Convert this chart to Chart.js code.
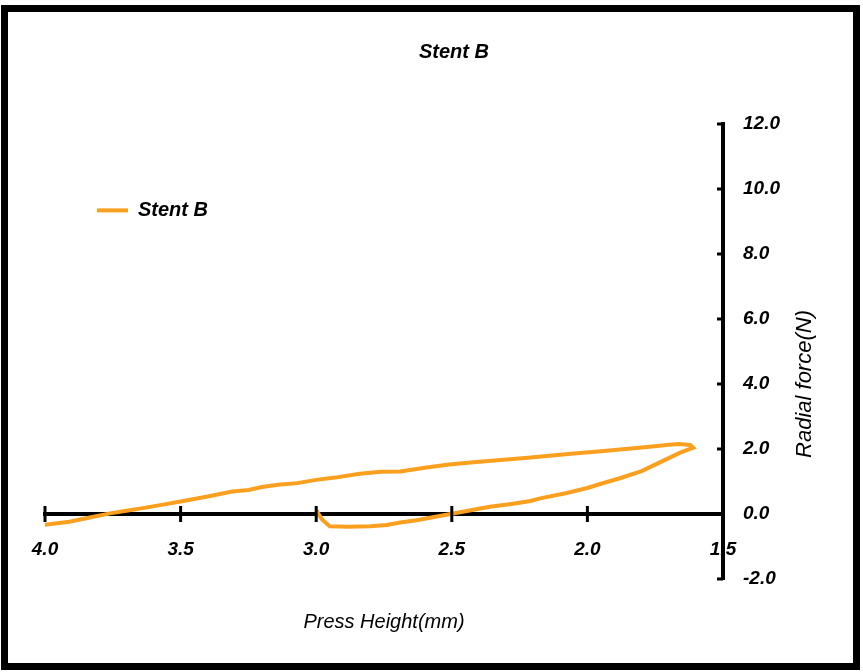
<!DOCTYPE html>
<html>
<head>
<meta charset="utf-8">
<script src="https://cdn.jsdelivr.net/npm/chart.js@4"></script>
<style>
  html, body { margin: 0; padding: 0; background: #fff; }
</style>
</head>
<body>
<canvas id="chart" width="863" height="672"></canvas>
<script>
// press height (mm) and radial force (N), loading then unloading
const pressHeight = [4.00, 3.91, 3.83, 3.76, 3.70, 3.64, 3.57, 3.49, 3.40, 3.31, 3.25, 3.20, 3.14, 3.07, 3.00,
  2.93, 2.84, 2.76, 2.69, 2.60, 2.51, 2.42, 2.32, 2.23, 2.14, 2.05, 1.95, 1.86, 1.77, 1.70, 1.66, 1.62, 1.61,
  1.66, 1.70, 1.75, 1.80, 1.88, 1.95, 2.00, 2.08, 2.17, 2.21, 2.28, 2.36, 2.44, 2.50, 2.57, 2.63, 2.69, 2.74,
  2.80, 2.88, 2.95, 2.98, 3.00];
const radialForce = [-0.33, -0.24, -0.10, 0.02, 0.10, 0.18, 0.28, 0.40, 0.54, 0.69, 0.74, 0.83, 0.90, 0.95, 1.05,
  1.12, 1.24, 1.30, 1.31, 1.42, 1.52, 1.59, 1.66, 1.72, 1.79, 1.86, 1.93, 2.00, 2.07, 2.13, 2.15, 2.12, 2.04,
  1.88, 1.72, 1.52, 1.32, 1.10, 0.93, 0.80, 0.64, 0.49, 0.40, 0.31, 0.22, 0.10, 0.01, -0.10, -0.19, -0.26, -0.34,
  -0.38, -0.39, -0.38, -0.15, 0.12];
const xTicks = [4.0, 3.5, 3.0, 2.5, 2.0, 1.5];
const yTicks = [12, 10, 8, 6, 4, 2, 0, -2];

const FONT = "'Liberation Sans Narrow', 'Liberation Sans', Arial, sans-serif";
const ORANGE = '#FA9F1E';
Chart.defaults.font.family = FONT;
Chart.defaults.color = '#000';

const tickFont = { size: 19, style: 'italic', weight: 'bold' };
const labelFont = { size: 20, style: 'italic', weight: 'bold' };

// frame, tick marks and the y axis title
const extras = {
  id: 'extras',
  afterDraw(chart) {
    const ctx = chart.ctx;
    const xs = chart.scales.x, ys = chart.scales.y;
    const y0 = ys.getPixelForValue(0);
    ctx.save();
    ctx.strokeStyle = '#000';
    ctx.lineWidth = 3;
    xTicks.forEach(v => {
      const px = xs.getPixelForValue(v);
      ctx.beginPath(); ctx.moveTo(px, y0 - 8); ctx.lineTo(px, y0 + 8); ctx.stroke();
    });
    yTicks.forEach(v => {
      const py = ys.getPixelForValue(v);
      ctx.beginPath(); ctx.moveTo(ys.left - 6, py); ctx.lineTo(ys.left, py); ctx.stroke();
    });
    ctx.lineWidth = 7;
    ctx.strokeRect(4.5, 8.5, 852, 658);
    ctx.translate(805, ys.getPixelForValue(4));
    ctx.rotate(-Math.PI / 2);
    ctx.font = 'italic 22px ' + FONT;
    ctx.fillStyle = '#000';
    ctx.textAlign = 'center';
    ctx.textBaseline = 'middle';
    ctx.fillText('Radial force(N)', 0, 0);
    ctx.restore();
  }
};

new Chart(document.getElementById('chart'), {
  type: 'scatter',
  data: {
    datasets: [{
      label: 'Stent B',
      data: pressHeight.map((x, i) => ({ x: x, y: radialForce[i] })),
      showLine: true,
      borderColor: ORANGE,
      backgroundColor: ORANGE,
      borderWidth: 4,
      pointRadius: 0,
      tension: 0
    }]
  },
  options: {
    responsive: false,
    animation: false,
    layout: { padding: { left: 45, right: 0, top: 0, bottom: 93 } },
    plugins: {
      title: {
        display: true,
        text: 'Stent B',
        color: '#000',
        font: labelFont,
        padding: { top: 40, bottom: 60 }
      },
      legend: {
        position: 'chartArea',
        align: 'start',
        title: { display: true, text: ' ', font: { size: 12 }, padding: { top: 134, bottom: 0 } },
        labels: {
          boxWidth: 31,
          boxHeight: 4,
          padding: 52,
          color: '#000',
          font: labelFont,
          generateLabels: chart => Chart.defaults.plugins.legend.labels.generateLabels(chart)
            .map(l => Object.assign(l, { lineWidth: 0, fillStyle: ORANGE }))
        }
      },
      tooltip: { enabled: false }
    },
    scales: {
      x: {
        type: 'linear',
        reverse: true,
        min: 1.5,
        max: 4.0,
        position: { y: 0 },
        grid: { display: false, drawTicks: false },
        border: { display: true, color: '#000', width: 4 },
        ticks: {
          stepSize: 0.5,
          padding: 24,
          color: '#000',
          font: tickFont,
          maxRotation: 0,
          autoSkip: false,
          callback: v => v.toFixed(1)
        },
        title: {
          display: true,
          text: 'Press Height(mm)',
          color: '#000',
          font: { size: 20, style: 'italic' },
          padding: { top: 26, bottom: 0 }
        }
      },
      y: {
        position: 'right',
        min: -2,
        max: 12,
        grid: { display: false, drawTicks: false },
        border: { display: true, color: '#000', width: 4 },
        ticks: {
          stepSize: 2,
          padding: 20,
          color: '#000',
          font: tickFont,
          callback: v => v.toFixed(1)
        },
        afterFit(s) { s.width = 140; }
      }
    }
  },
  plugins: [extras]
});
</script>
</body>
</html>
